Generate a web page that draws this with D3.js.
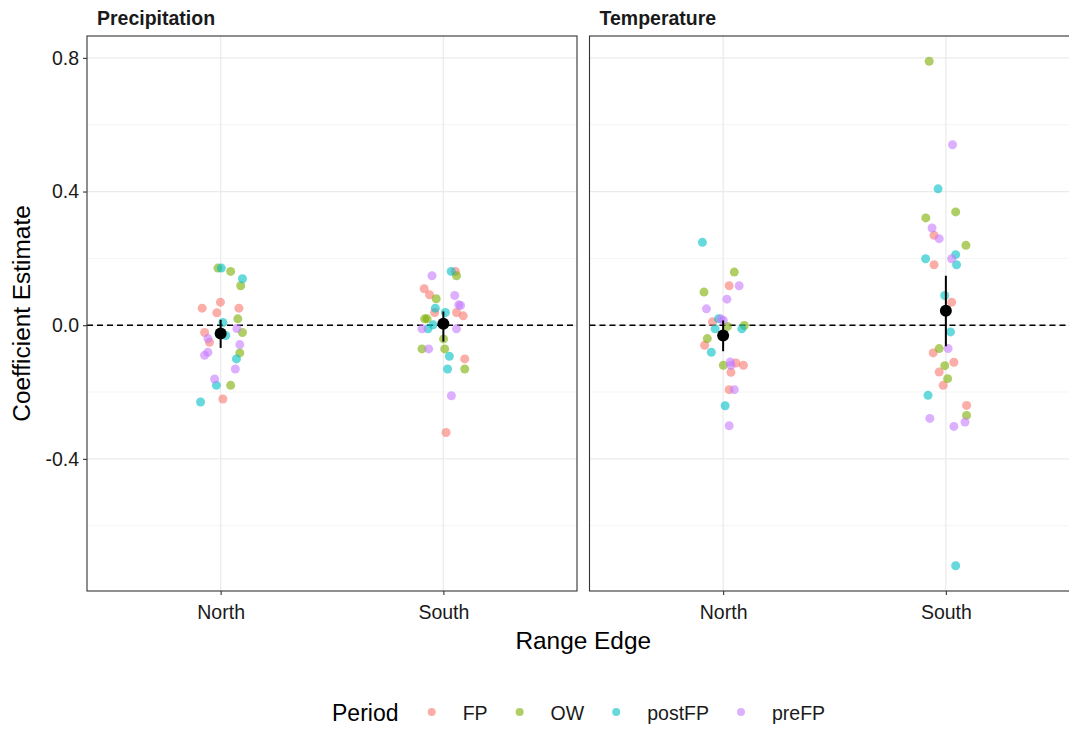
<!DOCTYPE html>
<html>
<head>
<meta charset="utf-8">
<script src="https://cdn.jsdelivr.net/npm/d3@7"></script>
<style>
  html, body { margin: 0; padding: 0; background: #fff; }
  svg { display: block; font-family: "Liberation Sans", Arial, sans-serif; }
</style>
</head>
<body>
<svg id="chart" width="1069" height="729"></svg>
<script>
// ---- data (each point: [jitter in category units, coefficient estimate]) ----
const facets = ["Precipitation", "Temperature"];
const edges = ["North", "South"];
const periods = ["FP", "OW", "postFP", "preFP"];
const periodColors = ["#F8766D", "#7CAE00", "#00BFC4", "#C77CFF"];
const yTickValues = [-0.4, 0.0, 0.4, 0.8];
const yMinorValues = [-0.6, -0.2, 0.2, 0.6];

const precipNorth = {
  FP:     [[-0.001, 0.069], [-0.083, 0.051], [0.082, 0.051], [-0.017, 0.037], [-0.072, -0.022], [-0.050, -0.051], [0.010, -0.221]],
  OW:     [[-0.012, 0.171], [0.045, 0.161], [0.090, 0.118], [0.077, 0.019], [0.098, -0.022], [0.086, -0.083], [0.045, -0.180]],
  postFP: [[0.003, 0.171], [0.098, 0.139], [0.010, 0.008], [0.023, -0.031], [0.071, -0.101], [-0.019, -0.180], [-0.090, -0.230]],
  preFP:  [[0.073, -0.010], [-0.057, -0.040], [0.086, -0.058], [-0.057, -0.081], [-0.072, -0.090], [0.066, -0.131], [-0.027, -0.161]]
};
const precipSouth = {
  FP:     [[0.054, 0.161], [-0.086, 0.109], [-0.062, 0.091], [-0.039, 0.038], [0.059, 0.038], [0.089, 0.028], [0.096, -0.101], [0.012, -0.321]],
  OW:     [[0.059, 0.148], [-0.032, 0.079], [-0.084, 0.019], [-0.073, 0.019], [0.001, -0.041], [-0.096, -0.071], [0.006, -0.071], [0.096, -0.131]],
  postFP: [[0.035, 0.161], [-0.036, 0.051], [0.009, 0.038], [-0.046, 0.001], [-0.069, -0.011], [0.027, -0.093], [0.019, -0.131]],
  preFP:  [[-0.051, 0.148], [0.051, 0.089], [0.069, 0.061], [0.077, 0.059], [-0.096, -0.011], [0.059, -0.011], [-0.066, -0.071], [0.036, -0.211]]
};
const tempNorth = {
  FP:     [[0.027, 0.118], [-0.048, 0.010], [-0.083, -0.060], [0.057, -0.113], [0.091, -0.120], [0.035, -0.141], [0.027, -0.193]],
  OW:     [[0.050, 0.159], [-0.086, 0.099], [0.019, -0.004], [0.095, -0.001], [-0.071, -0.040], [0.001, -0.120]],
  postFP: [[-0.093, 0.248], [-0.021, 0.019], [-0.036, -0.011], [0.084, -0.011], [-0.053, -0.081], [0.009, -0.241]],
  preFP:  [[0.072, 0.118], [0.017, 0.078], [-0.075, 0.049], [-0.010, 0.019], [0.001, 0.014], [0.032, -0.110], [0.035, -0.120], [0.050, -0.193], [0.027, -0.301]]
};
const tempSouth = {
  FP:     [[-0.053, 0.269], [-0.053, 0.181], [0.026, 0.069], [-0.057, -0.083], [0.036, -0.111], [-0.030, -0.140], [-0.012, -0.180], [0.093, -0.240]],
  OW:     [[-0.075, 0.790], [0.044, 0.339], [-0.090, 0.321], [0.090, 0.239], [-0.030, -0.070], [-0.005, -0.121], [0.008, -0.160], [0.093, -0.270]],
  postFP: [[-0.035, 0.408], [-0.091, 0.199], [0.044, 0.211], [0.048, 0.181], [-0.005, 0.089], [0.021, -0.020], [-0.080, -0.210], [0.044, -0.720]],
  preFP:  [[0.030, 0.540], [-0.062, 0.291], [-0.030, 0.259], [0.026, 0.199], [0.010, -0.070], [-0.072, -0.279], [0.086, -0.290], [0.036, -0.303]]
};

// mean estimate and interval per facet, ordered by edges (North, South)
const precipMean  = [-0.025, 0.004];
const precipLower = [-0.068, -0.049];
const precipUpper = [0.016, 0.041];
const tempMean    = [-0.031, 0.043];
const tempLower   = [-0.078, -0.063];
const tempUpper   = [0.014, 0.148];

// ---- build tables ----
const facetPoints = { Precipitation: [precipNorth, precipSouth], Temperature: [tempNorth, tempSouth] };
const facetSummary = {
  Precipitation: { mean: precipMean, lo: precipLower, hi: precipUpper },
  Temperature:   { mean: tempMean,   lo: tempLower,   hi: tempUpper }
};
const points = [];
facets.forEach(f => {
  edges.forEach((e, ei) => {
    const grp = facetPoints[f][ei];
    periods.forEach(p => {
      grp[p].forEach(([j, v]) => points.push({ facet: f, edge: e, period: p, jitter: j, value: v }));
    });
  });
});

// ---- layout ----
const svg = d3.select("#chart");
const panelTop = 36, panelBottom = 591, panelWidth = 490;
const panelLefts = [87, 589.5];
const tickFont = 19.5, titleFont = 24.4;

const ext = d3.extent(points, d => d.value);
const pad = (ext[1] - ext[0]) * 0.05;
const y = d3.scaleLinear().domain([ext[0] - pad, ext[1] + pad]).range([panelBottom, panelTop]);
const color = d3.scaleOrdinal().domain(periods).range(periodColors);

facets.forEach((f, fi) => {
  const left = panelLefts[fi];
  const x = d3.scalePoint().domain(edges).range([0, panelWidth]).padding(0.6);
  const g = svg.append("g").attr("transform", `translate(${left},0)`);

  const clipId = "clip" + fi;
  g.append("clipPath").attr("id", clipId).append("rect")
    .attr("x", 0).attr("y", panelTop).attr("width", panelWidth).attr("height", panelBottom - panelTop);
  const inner = g.append("g").attr("clip-path", `url(#${clipId})`);

  // grid
  inner.selectAll(".minor").data(yMinorValues).join("line")
    .attr("x1", 0).attr("x2", panelWidth).attr("y1", d => y(d)).attr("y2", d => y(d))
    .attr("stroke", "#f2f2f2").attr("stroke-width", 0.8);
  inner.selectAll(".major").data(yTickValues).join("line")
    .attr("x1", 0).attr("x2", panelWidth).attr("y1", d => y(d)).attr("y2", d => y(d))
    .attr("stroke", "#ebebeb").attr("stroke-width", 1.3);
  inner.selectAll(".vmajor").data(edges).join("line")
    .attr("x1", d => x(d)).attr("x2", d => x(d)).attr("y1", panelTop).attr("y2", panelBottom)
    .attr("stroke", "#ebebeb").attr("stroke-width", 1.3);

  // zero reference line
  inner.append("line")
    .attr("x1", 0).attr("x2", panelWidth).attr("y1", y(0)).attr("y2", y(0))
    .attr("stroke", "#000").attr("stroke-width", 1.4).attr("stroke-dasharray", "6,4");

  // jittered points
  inner.selectAll(".pt").data(points.filter(d => d.facet === f)).join("circle")
    .attr("cx", d => x(d.edge) + d.jitter * x.step())
    .attr("cy", d => y(d.value))
    .attr("r", 4.5)
    .attr("fill", d => color(d.period))
    .attr("fill-opacity", 0.6);

  // summary
  const s = facetSummary[f];
  const sumData = edges.map((e, i) => ({ edge: e, mean: s.mean[i], lo: s.lo[i], hi: s.hi[i] }));
  inner.selectAll(".err").data(sumData).join("line")
    .attr("x1", d => x(d.edge)).attr("x2", d => x(d.edge))
    .attr("y1", d => y(d.lo)).attr("y2", d => y(d.hi))
    .attr("stroke", "#000").attr("stroke-width", 2);
  inner.selectAll(".mean").data(sumData).join("circle")
    .attr("cx", d => x(d.edge)).attr("cy", d => y(d.mean)).attr("r", 6).attr("fill", "#000");

  // border
  g.append("rect").attr("x", 0).attr("y", panelTop).attr("width", panelWidth).attr("height", panelBottom - panelTop)
    .attr("fill", "none").attr("stroke", "#333").attr("stroke-width", 1.1);

  // x axis
  const xAxis = g.append("g").attr("transform", `translate(0,${panelBottom})`)
    .call(d3.axisBottom(x).tickSize(4).tickPadding(10));
  xAxis.select(".domain").remove();
  xAxis.selectAll(".tick line").attr("stroke", "#333").attr("stroke-width", 1.1);
  xAxis.selectAll("text").attr("fill", "#1a1a1a").style("font-size", tickFont + "px")
    .style("font-family", "'Liberation Sans', Arial, sans-serif");

  // y axis on first panel
  if (fi === 0) {
    const yAxis = g.append("g")
      .call(d3.axisLeft(y).tickValues(yTickValues).tickFormat(d => d.toFixed(1)).tickSize(4).tickPadding(4));
    yAxis.select(".domain").remove();
    yAxis.selectAll(".tick line").attr("stroke", "#333").attr("stroke-width", 1.1);
    yAxis.selectAll("text").attr("fill", "#1a1a1a").style("font-size", tickFont + "px")
      .style("font-family", "'Liberation Sans', Arial, sans-serif");
  }

  // strip title
  svg.append("text").attr("x", left + 10).attr("y", 25)
    .attr("font-weight", "bold").attr("font-size", tickFont).attr("fill", "#1a1a1a").text(f);
});

// axis titles
svg.append("text").attr("x", (panelLefts[0] + panelLefts[1] + panelWidth) / 2).attr("y", 649)
  .attr("text-anchor", "middle").attr("font-size", titleFont).attr("fill", "#000").text("Range Edge");
svg.append("text").attr("transform", `translate(30,${(panelTop + panelBottom) / 2}) rotate(-90)`)
  .attr("text-anchor", "middle").attr("font-size", titleFont).attr("fill", "#000").text("Coefficient Estimate");

// legend
const legY = 712;
const leg = svg.append("g");
leg.append("text").attr("x", 332).attr("y", legY + 9).attr("font-size", 23).attr("fill", "#000").text("Period");
let cx = 431.7;
periods.forEach(p => {
  leg.append("circle").attr("cx", cx).attr("cy", legY).attr("r", 4).attr("fill", color(p)).attr("fill-opacity", 0.6);
  const t = leg.append("text").attr("x", cx + 31).attr("y", legY + 7.5).attr("font-size", tickFont).attr("fill", "#1a1a1a").text(p);
  cx = cx + 31 + t.node().getComputedTextLength() + 32;
});
</script>
</body>
</html>
